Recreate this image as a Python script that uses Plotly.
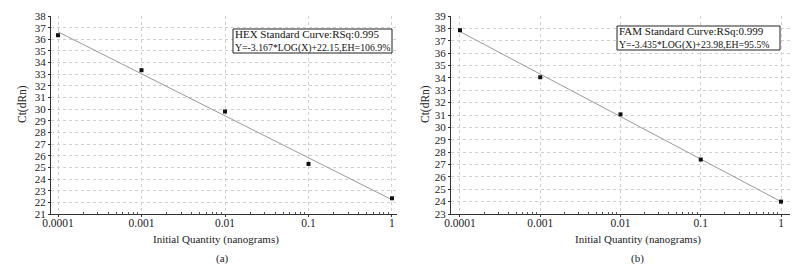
import numpy as np
import plotly.graph_objects as go

# ---- data ----
quantity = [0.0001, 0.001, 0.01, 0.1, 1]
hex_ct = [36.35, 33.35, 29.8, 25.3, 22.35]
fam_ct = [37.85, 34.05, 31.05, 27.4, 24.0]
x_tick_vals = [0.0001, 0.001, 0.01, 0.1, 1]
x_tick_text = ["0.0001", "0.001", "0.01", "0.1", "1"]
hex_label = ["HEX Standard Curve:RSq:0.995", "Y=-3.167*LOG(X)+22.15,EH=106.9%"]
fam_label = ["FAM Standard Curve:RSq:0.999", "Y=-3.435*LOG(X)+23.98,EH=95.5%"]
x_title = "Initial Quantity (nanograms)"
y_title = "Ct(dRn)"
panel_labels = ["(a)", "(b)"]

FONT = "Liberation Serif"

def fit_line(xs, ys):
    lx = np.log10(xs)
    k, b = np.polyfit(lx, ys, 1)
    return [xs[0], xs[-1]], [k * np.log10(xs[0]) + b, k * np.log10(xs[-1]) + b]

minor_vals = [m * 10.0 ** d for d in range(-4, 0) for m in range(2, 10)]

fig = go.Figure()
for i, (ys, ax) in enumerate([(hex_ct, ""), (fam_ct, "2")]):
    lx, ly = fit_line(quantity, ys)
    fig.add_trace(go.Scatter(x=lx, y=ly, mode="lines", line=dict(color="#9a9a9a", width=1),
                             xaxis="x" + ax, yaxis="y" + ax, showlegend=False, hoverinfo="skip"))
    fig.add_trace(go.Scatter(x=quantity, y=ys, mode="markers",
                             marker=dict(symbol="square", size=4, color="#111"),
                             xaxis="x" + ax, yaxis="y" + ax, showlegend=False))

common_x = dict(type="log", tickmode="array", tickvals=x_tick_vals, ticktext=x_tick_text,
                showline=True, linecolor="#333", linewidth=1, ticks="outside", ticklen=2,
                tickcolor="#333", showgrid=True, gridcolor="#d0d0d0", griddash="dot",
                tickfont=dict(family=FONT, size=11.5, color="#222"), zeroline=False,
                automargin=False, ticklabelstandoff=-4,
                minor=dict(tickmode="array", tickvals=minor_vals, ticks="inside", ticklen=2,
                           tickcolor="#555", showgrid=False))
common_y = dict(showline=True, linecolor="#333", linewidth=1, ticks="outside", ticklen=2,
                tickcolor="#333", dtick=1, showgrid=True, gridcolor="#d0d0d0", griddash="dot",
                automargin=False,
                tickfont=dict(family=FONT, size=11, color="#222"), zeroline=False)

# page body has an 8px margin: map target-screen pixels into figure space
OFF = 8
W, H = 809 - OFF, 272 - OFF
def px(x): return (x - OFF) / W
def py(y): return 1 - (y - OFF) / H

fig.update_layout(
    width=W, height=H, margin=dict(l=0, r=0, t=0, b=0, pad=0), autosize=False,
    paper_bgcolor="white", plot_bgcolor="white",
    xaxis=dict(common_x, domain=[px(51), px(397)], range=[-4.084, 0.06], anchor="y"),
    yaxis=dict(common_y, domain=[py(214), py(16)], range=[21, 38], anchor="x"),
    xaxis2=dict(common_x, domain=[px(451), px(790)], range=[-4.112, 0.112], anchor="y2"),
    yaxis2=dict(common_y, domain=[py(214), py(16)], range=[23, 39], anchor="x2"),
)

ann = []
shapes = []
for (x0, x1, y0, y1, lines) in [(233, 392, 29, 53, hex_label), (617, 780, 26, 50, fam_label)]:
    shapes.append(dict(type="rect", xref="paper", yref="paper", x0=px(x0), x1=px(x1),
                       y0=py(y1), y1=py(y0), line=dict(color="#222", width=1), fillcolor="white"))
    txt = '<span style="font-size:11px">' + lines[0] + "</span><br>" + lines[1]
    ann.append(dict(text=txt, xref="paper", yref="paper", x=px(x0 + 1), y=py((y0 + y1) / 2),
                    xanchor="left", yanchor="middle", align="left", showarrow=False, borderpad=0,
                    font=dict(family=FONT, size=9.8, color="#111")))
for cx_x, cx_y, cx_l, lab in [(216, 22, 222, panel_labels[0]), (638, 425, 637, panel_labels[1])]:
    ann.append(dict(text=x_title, xref="paper", yref="paper", x=px(cx_x), y=py(239),
                    xanchor="center", yanchor="middle", showarrow=False,
                    font=dict(family=FONT, size=11, color="#222")))
    ann.append(dict(text=lab, xref="paper", yref="paper", x=px(cx_l), y=py(258),
                    xanchor="center", yanchor="middle", showarrow=False,
                    font=dict(family=FONT, size=11, color="#222")))
    ann.append(dict(text=y_title, xref="paper", yref="paper", x=px(cx_y), y=py(104),
                    xanchor="center", yanchor="middle", showarrow=False, textangle=-90,
                    font=dict(family=FONT, size=11.5, color="#222")))
fig.update_layout(annotations=ann, shapes=shapes)

fig.write_html("out.html")
